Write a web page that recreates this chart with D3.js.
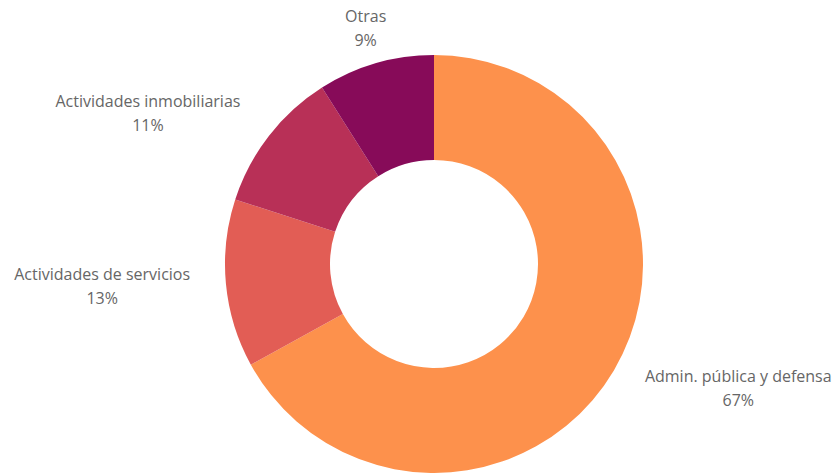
<!DOCTYPE html>
<html lang="es">
<head>
    <meta charset="UTF-8">
    <title>Donut</title>
    <script src="https://d3js.org/d3.v7.min.js"></script>
    <style>
        body { margin: 0; background: #fff; }
        .label text { font-family: "Open Sans", sans-serif; font-size: 16px; fill: #666; }
    </style>
</head>
<body>
<script>
    const categories = ["Admin. pública y defensa", "Actividades de servicios", "Actividades inmobiliarias", "Otras"];
    const values = [67, 13, 11, 9];
    const colors = ["#fd914c", "#e25d55", "#b83057", "#870b59"];

    const w = 835, h = 473,
        cx = 434, cy = 264,
        outerR = 209, innerR = 104, labelR = 245;

    const svg = d3.select("body").append("svg").attr("width", w).attr("height", h);
    const g = svg.append("g").attr("transform", `translate(${cx},${cy})`);

    const data = categories.map((c, i) => ({ name: c, value: values[i], color: colors[i] }));

    const pie = d3.pie().value(d => d.value).sort(null);
    const arc = d3.arc().innerRadius(innerR).outerRadius(outerR);
    const arcs = pie(data);

    g.selectAll("path")
        .data(arcs)
        .enter()
        .append("path")
        .attr("d", arc)
        .attr("fill", d => d.data.color);

    const total = d3.sum(values);

    arcs.forEach(function (d) {
        const a = (d.startAngle + d.endAngle) / 2;
        const px = labelR * Math.sin(a), py = -labelR * Math.cos(a);
        const lg = g.append("g").attr("class", "label");
        const name = lg.append("text").attr("text-anchor", "middle").attr("y", py - 7).text(d.data.name);
        const wid = name.node().getComputedTextLength();
        let mid;
        if (Math.abs(Math.sin(a)) < 0.35) mid = px;
        else if (Math.sin(a) < 0) mid = px - wid / 2;
        else mid = px + wid / 2;
        name.attr("x", mid);
        lg.append("text").attr("text-anchor", "middle").attr("x", mid).attr("y", py + 17)
            .text(Math.round(d.data.value / total * 100) + "%");
    });
</script>
</body>
</html>
